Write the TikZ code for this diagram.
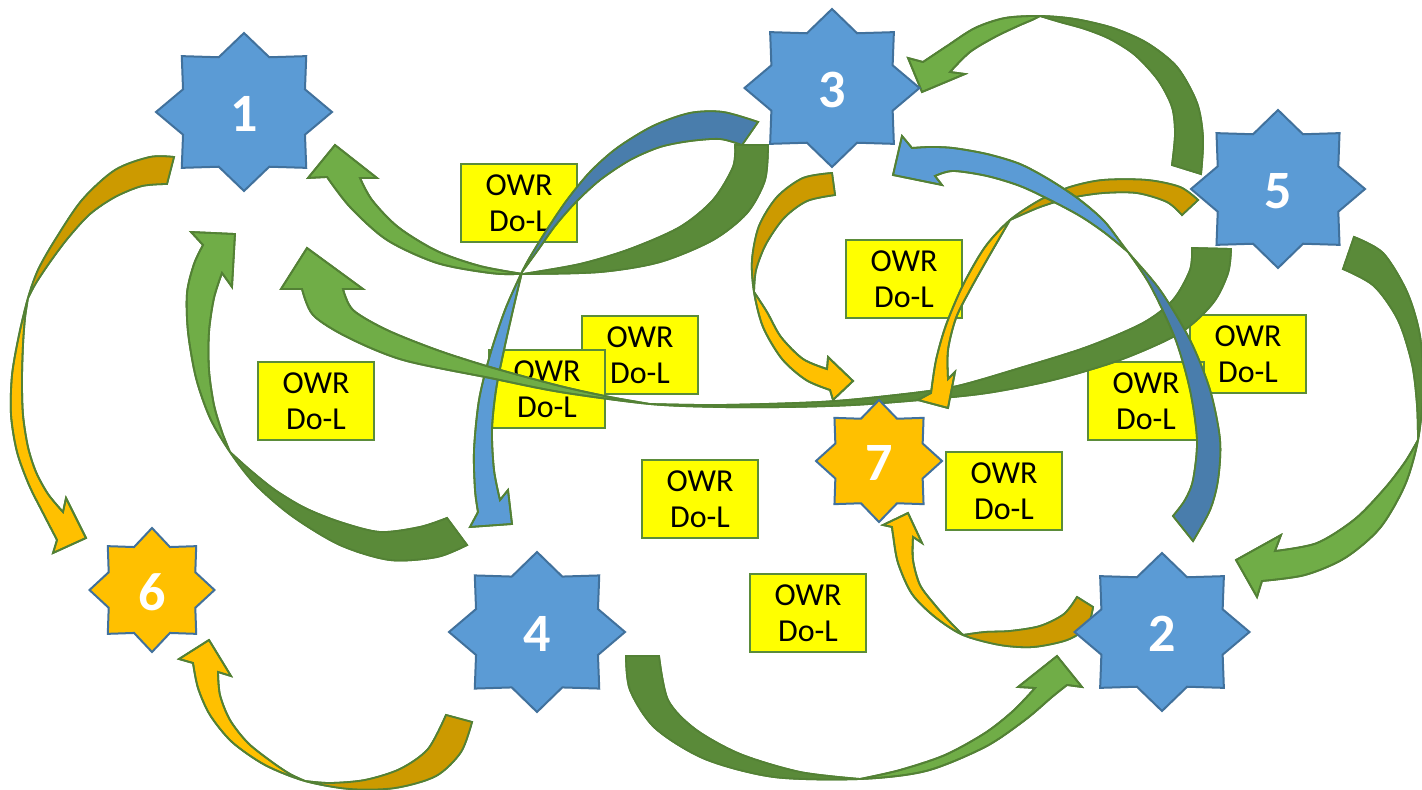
\documentclass[tikz,border=0pt]{standalone}
\usepackage{fontspec}
\setmainfont{Carlito}
\definecolor{sblue}{HTML}{5B9BD5}
\definecolor{sline}{HTML}{41719C}
\definecolor{sorange}{HTML}{FFC000}
\definecolor{gfront}{HTML}{70AD47}
\definecolor{gback}{HTML}{5A8A39}
\definecolor{ofront}{HTML}{FFC000}
\definecolor{oback}{HTML}{CC9A00}
\definecolor{bfront}{HTML}{5B9BD5}
\definecolor{bback}{HTML}{497DAC}
\definecolor{aline}{HTML}{538135}
\definecolor{boxline}{HTML}{5B8C3A}
\definecolor{boxfill}{HTML}{FFFF00}
\newcommand\drawstar[5]{%
  \begin{scope}[shift={(#1,#2)}]
  \filldraw[starline,fill=#5] (0,#4)
    \foreach \k in {1,...,15}{ -- ({(1-0.25*mod(\k,2))*#3*cos(90+22.5*\k)},{(1-0.25*mod(\k,2))*#4*sin(90+22.5*\k)}) } -- cycle;
  \end{scope}}
% #1 front colour, #2 back colour, #3 outline path, #4 region of the back part
\newcommand\curvedarrow[4]{%
  \filldraw[arr,fill=#1] #3;
  \begin{scope}\clip #3; \fill[#2] #4; \end{scope}
  \draw[arr] #3;}
\tikzset{
  starline/.style={draw=sline,line width=1pt},
  numlabel/.style={text=white,font=\fontsize{27}{30}\selectfont\bfseries,inner sep=0pt},
  owrbox/.style={rectangle,draw=boxline,fill=boxfill,line width=1pt,minimum width=58pt,minimum height=39pt,inner sep=0pt,align=center,font=\fontsize{16}{18}\selectfont},
  arr/.style={draw=aline,line width=0.9pt}
}
\begin{document}
\begin{tikzpicture}[x=0.5pt,y=-0.5pt]
\useasboundingbox (0,0) rectangle (1422,790);
\fill[white] (0,0) rectangle (1422,790);
% boxes
\node[owrbox] (b1) at (519,203) {OWR\\Do-L};
\node[owrbox] (b2) at (316,401) {OWR\\Do-L};
\node[owrbox] (b3) at (640,355) {OWR\\Do-L};
\node[owrbox] (b4) at (547,389) {OWR\\Do-L};
\node[owrbox] (b5) at (904,279) {OWR\\Do-L};
\node[owrbox] (b7) at (1248,354) {OWR\\Do-L};
\node[owrbox] (b6) at (1146,401) {OWR\\Do-L};
\node[owrbox] (b8) at (700,499) {OWR\\Do-L};
\node[owrbox] (b9) at (1004,491) {OWR\\Do-L};
\node[owrbox] (b10) at (808,613) {OWR\\Do-L};
% A: 1 -> 6
\curvedarrow{ofront}{oback}{plot[smooth] coordinates {(174,157) (150,157) (115,170) (82,200) (55,240) (38,270) (28,298) (19,335) (12,375) (11,415) (17,452) (29,485) (43,513) (57,540)} -- (53,553) -- (86,538) -- (66,498) -- plot[smooth] coordinates {(63,512) (48,494) (36,472) (28,447) (23,415) (22,380) (23,345) (25,318) (28,298)} -- plot[smooth] coordinates {(28,298) (36,283) (50,262) (68,238) (90,214) (115,197) (142,186) (167,184)} -- cycle}{(0,0) rectangle (300,298)}
% B: 4 -> 6
\curvedarrow{ofront}{oback}{plot[smooth] coordinates {(472,722) (461,752) (436,776) (395,788) (350,789) (305,781) (265,765) (232,742) (210,715) (198,688) (193,663)} -- (179,659) -- (209,640) -- (231,676) -- plot[smooth] coordinates {(218,672) (220,695) (230,720) (248,743) (272,762) (290,774) (305,781)} -- plot[smooth] coordinates {(305,781) (330,783) (365,780) (400,769) (428,749) (446,715)} -- cycle}{(305,600) rectangle (600,790)}
% C: 4 -> 2
\curvedarrow{gfront}{gback}{plot[smooth] coordinates {(626,656) (630,690) (655,728) (705,759) (774,777) (860,779) (926,771) (985,747) (1025,720) (1052,697) (1067,685)} -- (1082,687) -- (1057,656) -- (1018,687) -- plot[smooth] coordinates {(1035,688) (1013,711) (985,733) (945,755) (900,770) (860,779)} -- plot[smooth] coordinates {(860,779) (800,772) (740,754) (695,729) (668,700) (659,656)} -- cycle}{(600,600) rectangle (860,790)}
% D: -> 1
\curvedarrow{gfront}{gback}{plot[smooth] coordinates {(467,545) (437,557) (390,560) (340,545) (292,516) (255,484) (230,452) (210,418) (196,378) (188,332) (187,293) (194,264) (203,245)} -- (191,232) -- (235,234) -- (232,287) -- plot[smooth] coordinates {(222,273) (214,298) (209,332) (209,370) (214,405) (222,432) (230,452)} -- plot[smooth] coordinates {(230,452) (250,470) (275,490) (305,508) (340,522) (380,532) (420,527) (447,518)} -- cycle}{(150,452) rectangle (500,600)}
% E: 3 -> 1
\curvedarrow{gfront}{gback}{plot[smooth] coordinates {(768,145) (765,180) (747,213) (713,240) (660,262) (600,272) (523,274) (490,273) (437,263) (387,240) (350,207) (327,177)} -- (308,178) -- (335,145) -- (377,178) -- plot[smooth] coordinates {(360,178) (372,200) (398,227) (437,251) (480,266) (523,274)} -- plot[smooth] coordinates {(523,274) (580,264) (630,249) (680,227) (713,200) (733,167) (735,145)} -- cycle}{(523,100) rectangle (800,300)}
% I: 3 -> 4
\curvedarrow{bfront}{bback}{plot[smooth] coordinates {(758,122) (723,112) (690,113) (653,126) (617,148) (590,172) (567,200) (548,228) (533,252) (522,272) (505,310) (490,355) (479,400) (474,450) (475,490) (478,512)} -- (470,527) -- (512,524) -- (508,490) -- plot[smooth] coordinates {(500,500) (494,470) (492,430) (496,390) (504,350) (513,310) (522,272)} -- plot[smooth] coordinates {(522,272) (538,250) (555,226) (575,203) (600,180) (630,160) (660,147) (690,141) (720,139) (742,145)} -- cycle}{(450,50) rectangle (800,272)}
% F: 5 -> 1
\curvedarrow{gfront}{gback}{plot[smooth] coordinates {(1231,249) (1228,273) (1213,303) (1180,333) (1120,360) (1053,380) (987,393) (920,400) (853,405) (787,407) (720,407) (650,404) (560,392) (490,378) (403,360) (347,337) (313,315) (302,289)} -- (281,289) -- (307,248) -- (363,289) -- plot[smooth] coordinates {(343,289) (353,310) (387,330) (437,350) (490,367) (560,386) (610,397) (650,404)} -- plot[smooth] coordinates {(650,404) (720,405) (820,402) (887,396) (953,387) (1020,368) (1087,347) (1143,323) (1173,300) (1190,270) (1192,248)} -- cycle}{(650,200) rectangle (1300,450)}
% K: 3 -> 7
\curvedarrow{ofront}{oback}{plot[smooth] coordinates {(832,173) (803,178) (777,197) (759,226) (752,260) (754,292) (763,327) (782,359) (806,380) (830,390)} -- (833,400) -- (853,381) -- (828,357) -- plot[smooth] coordinates {(827,369) (803,359) (781,337) (767,312) (754,292)} -- plot[smooth] coordinates {(754,292) (756,270) (766,244) (784,218) (807,201) (835,195)} -- cycle}{(700,150) rectangle (860,292)}
% M: 2 -> 7
\curvedarrow{ofront}{oback}{plot[smooth] coordinates {(1093,607) (1087,627) (1067,640) (1033,647) (1000,645) (963,635) (935,617) (912,594) (898,563) (893,535) (892,527)} -- (883,525) -- (908,513) -- (922,543) -- plot[smooth] coordinates {(913,537) (913,560) (920,585) (935,605) (950,622) (963,635)} -- plot[smooth] coordinates {(963,635) (985,632) (1010,631) (1040,626) (1064,614) (1077,597)} -- cycle}{(963,580) rectangle (1110,660)}
% H: 5 -> 2
\curvedarrow{gfront}{gback}{plot[smooth] coordinates {(1354,237) (1383,253) (1407,292) (1420,336) (1423,390) (1418,440) (1405,485) (1380,528) (1345,558) (1305,575) (1262,581)} -- (1257,597) -- (1236,560) -- (1281,535) -- plot[smooth] coordinates {(1275,551) (1317,543) (1355,519) (1385,488) (1405,462) (1418,440)} -- plot[smooth] coordinates {(1418,440) (1417,405) (1412,364) (1398,320) (1374,286) (1343,269)} -- cycle}{(1300,200) rectangle (1430,440)}
% G: 5 -> 3
\curvedarrow{gfront}{gback}{plot[smooth] coordinates {(1201,174) (1203,138) (1197,103) (1177,67) (1147,43) (1113,28) (1075,19) (1040,16) (1005,18) (975,28) (947,46) (923,62)} -- (908,58) -- (922,92) -- (965,74) -- plot[smooth] coordinates {(950,72) (970,52) (995,37) (1018,26) (1032,20) (1040,16)} -- plot[smooth] coordinates {(1040,16) (1060,22) (1085,29) (1110,39) (1135,55) (1158,80) (1172,107) (1175,134) (1172,165)} -- cycle}{(1040,0) rectangle (1250,200)}
% L: 5 -> 7
\curvedarrow{ofront}{oback}{plot[smooth] coordinates {(1198,200) (1180,187) (1147,180) (1103,180) (1070,187) (1040,200) (1010,220) (985,247) (963,285) (946,325) (936,360) (931,393)} -- (918,400) -- (948,408) -- (955,372) -- plot[smooth] coordinates {(948,379) (948,350) (956,318) (970,290) (988,258) (1010,220)} -- plot[smooth] coordinates {(1010,220) (1040,207) (1070,198) (1103,193) (1137,193) (1167,202) (1182,215)} -- cycle}{(1010,150) rectangle (1220,260)}
% J: 2 -> 3
\curvedarrow{bfront}{bback}{plot[smooth] coordinates {(1193,541) (1210,510) (1218,480) (1220,440) (1210,390) (1190,340) (1160,290) (1128,252) (1105,222) (1080,200) (1050,180) (1020,164) (987,154) (953,148) (930,147) (912,148)} -- (902,136) -- (893,175) -- (942,185) -- plot[smooth] coordinates {(935,176) (953,171) (987,176) (1020,186) (1050,200) (1080,216) (1105,233) (1128,252)} -- plot[smooth] coordinates {(1128,252) (1150,285) (1175,338) (1190,390) (1197,440) (1193,480) (1185,500) (1173,516)} -- cycle}{(1128,252) rectangle (1300,600)}
% stars
\drawstar{244}{112}{88}{79}{sblue}
\node[numlabel] (s1) at (244,114) {1};
\drawstar{1162}{632}{87.5}{79}{sblue}
\node[numlabel] (s2) at (1162,634) {2};
\drawstar{832}{88}{87.5}{79}{sblue}
\node[numlabel] (s3) at (832,90) {3};
\drawstar{537}{632}{88}{80}{sblue}
\node[numlabel] (s4) at (537,634) {4};
\drawstar{1278}{189}{87}{79}{sblue}
\node[numlabel] (s5) at (1278,191) {5};
\drawstar{152}{590}{62.5}{62}{sorange}
\node[numlabel] (s6) at (152,592) {6};
\drawstar{879}{461}{63}{61}{sorange}
\node[numlabel] (s7) at (879,463) {7};
\end{tikzpicture}
\end{document}
